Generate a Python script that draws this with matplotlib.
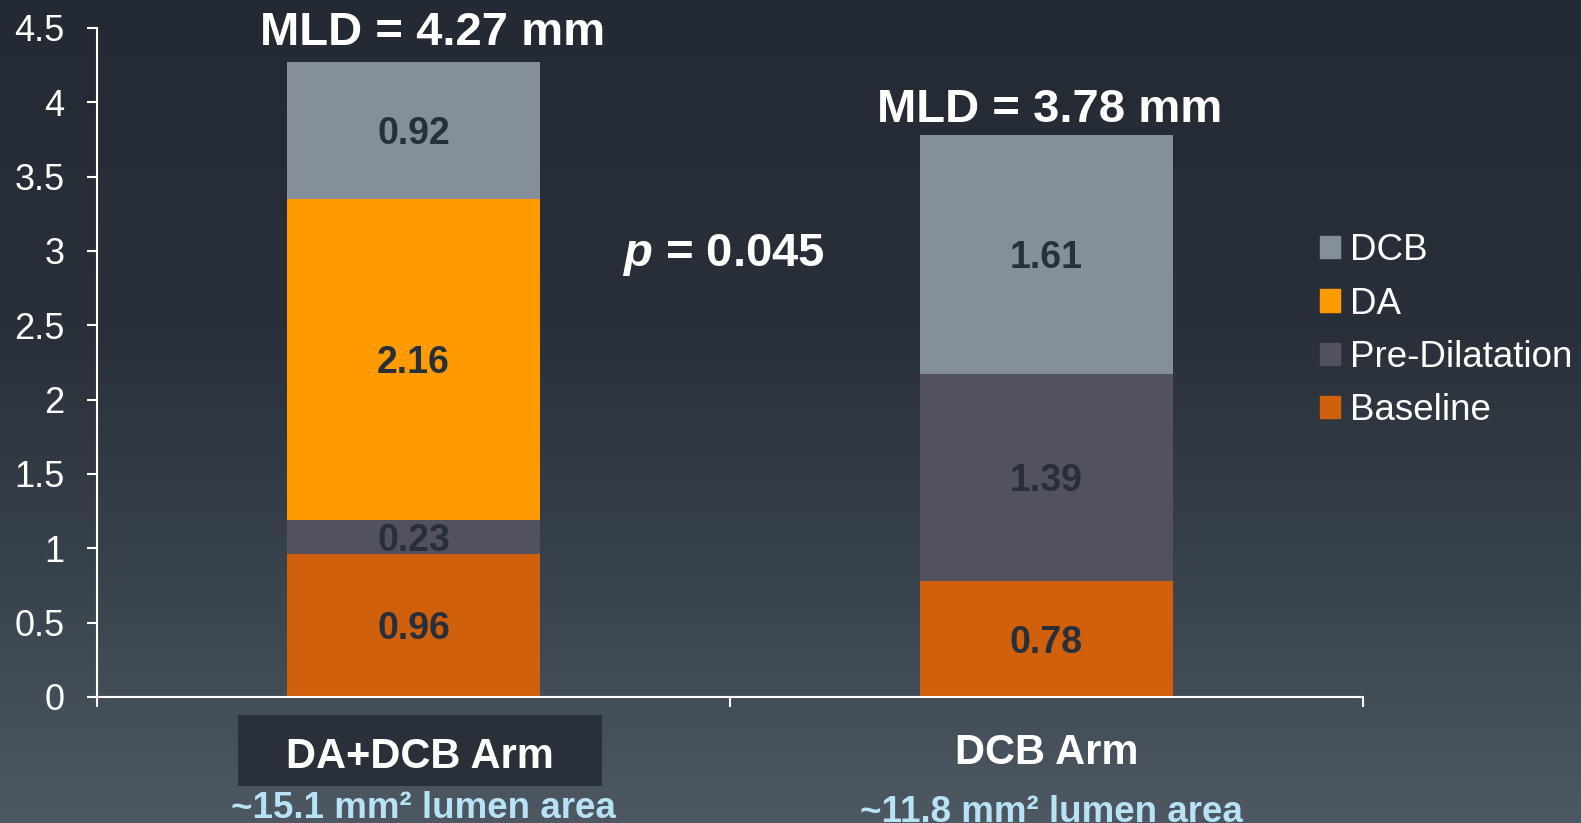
import numpy as np
import matplotlib
matplotlib.use('Agg')
import matplotlib.pyplot as plt
from matplotlib.patches import Patch, Rectangle
from matplotlib.colors import LinearSegmentedColormap

plt.rcParams['font.family'] = ['Liberation Sans', 'DejaVu Sans']
plt.rcParams['mathtext.fontset'] = 'custom'
plt.rcParams['mathtext.bfit'] = 'Liberation Sans:italic:bold'
plt.rcParams['mathtext.rm'] = 'Liberation Sans'

#%% data

arms       = ['DA+DCB Arm', 'DCB Arm']
areas      = ['~15.1 mm\u00b2 lumen area', '~11.8 mm\u00b2 lumen area']
baseline   = [0.96, 0.78]
pre_dil    = [0.23, 1.39]
da         = [2.16, 0.0]
dcb        = [0.92, 1.61]
mld        = [4.27, 3.78]
p_value    = '0.045'
yticks     = [0, 0.5, 1, 1.5, 2, 2.5, 3, 3.5, 4, 4.5]
ytick_lbls = ['0', '0.5', '1', '1.5', '2', '2.5', '3', '3.5', '4', '4.5']

#%% colours

c_base = '#d0600c'
c_pre  = '#52515f'
c_da   = '#ff9b00'
c_dcb  = '#858e9b'
c_val  = '#27303a'
c_area = '#b8e3f6'

#%% figure with gradient background

fig = plt.figure(figsize=(15.81, 8.23), dpi=100)
bg = fig.add_axes([0, 0, 1, 1], zorder=-10)
cmap = LinearSegmentedColormap.from_list('bg', [(0.0, '#242a33'), (0.4, '#29303a'),
                                                (0.72, '#3a444e'), (1.0, '#4e5863')])
grad = np.linspace(0, 1, 256).reshape(-1, 1)
bg.imshow(grad, aspect='auto', cmap=cmap, extent=[0, 1, 0, 1], origin='upper')
bg.set_axis_off()

ax = fig.add_axes([0.0614, 0.1531, 0.8006, 0.8129])
ax.patch.set_alpha(0)

x = np.arange(len(arms))
w = 0.4
bottoms = np.zeros(len(arms))
series = [(baseline, c_base, 'Baseline'), (pre_dil, c_pre, 'Pre-Dilatation'),
          (da, c_da, 'DA'), (dcb, c_dcb, 'DCB')]
for vals, col, name in series:
    vals = np.array(vals)
    ax.bar(x, vals, w, bottom=bottoms, color=col, zorder=2)
    for i in range(len(arms)):
        if vals[i] > 0:
            ax.text(x[i], bottoms[i] + vals[i] / 2 - 0.025, '%.2f' % vals[i], ha='center', va='center',
                    fontsize=27, fontweight='bold', color=c_val, zorder=3)
    bottoms = bottoms + vals

mld_dx = [0.03, 0.005]
mld_dy = [0.115, 0.09]
for i in range(len(arms)):
    ax.text(x[i] + mld_dx[i], mld[i] + mld_dy[i], 'MLD = %.2f mm' % mld[i], ha='center', va='baseline',
            fontsize=34, fontweight='bold', color='white')

ax.text(0.489, 2.975, r'$\mathbfit{p}$' + ' = ' + p_value, ha='center', va='center',
        fontsize=34, fontweight='bold', color='white')

#%% axes styling

ax.set_xlim(-0.5, 1.5)
ax.set_ylim(0, 4.5)
ax.set_yticks(yticks)
ax.set_yticklabels(ytick_lbls)
ax.set_xticks([-0.5, 0.5, 1.5])
ax.set_xticklabels([])
ax.tick_params(axis='y', colors='white', labelsize=26, length=7.5, width=1.5, pad=16)
ax.tick_params(axis='x', colors='white', length=7.5, width=1.5)
for s in ['top', 'right']:
    ax.spines[s].set_visible(False)
for s in ['left', 'bottom']:
    ax.spines[s].set_color('white')
    ax.spines[s].set_linewidth(1.5)

# category labels
ax.add_patch(Rectangle((-0.277, -0.6), 0.575, 0.476, fc='#29303a', ec='none', clip_on=False, zorder=1))
ax.text(0.01, -0.405, arms[0], ha='center', va='center', fontsize=30, fontweight='bold', color='white')
ax.text(1.0, -0.38, arms[1], ha='center', va='center', fontsize=30, fontweight='bold', color='white')
ax.text(0.016, -0.75, areas[0], ha='center', va='center', fontsize=26.5, fontweight='bold', color=c_area)
ax.text(1.008, -0.78, areas[1], ha='center', va='center', fontsize=26.5, fontweight='bold', color=c_area)

handles = [Patch(color=c_dcb, label='DCB'), Patch(color=c_da, label='DA'),
           Patch(color=c_pre, label='Pre-Dilatation'), Patch(color=c_base, label='Baseline')]
leg = fig.legend(handles=handles, loc='upper left', bbox_to_anchor=(0.814, 0.757), frameon=False,
                 fontsize=26.5, handlelength=0.55, handleheight=0.55, handletextpad=0.25, labelspacing=0.5)
for t in leg.get_texts():
    t.set_color('white')

fig.savefig('out.png', dpi=100)
